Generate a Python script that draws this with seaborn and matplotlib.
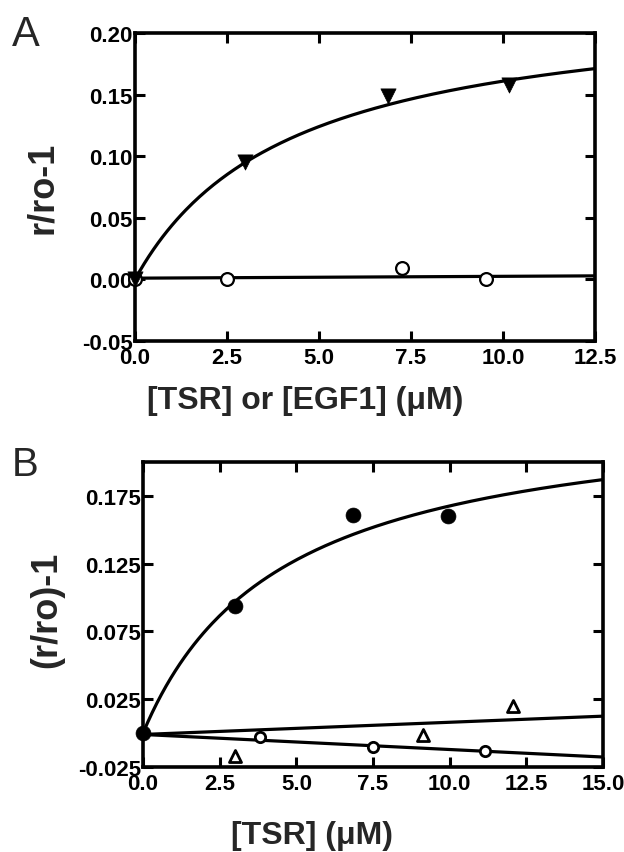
import numpy as np
import pandas as pd
import matplotlib
matplotlib.use("Agg")
import matplotlib.pyplot as plt
import seaborn as sns

# ---------------- data ----------------
# Panel A
a_tri_x = [0.0, 3.0, 6.87, 10.16]
a_tri_y = [0.0, 0.095, 0.149, 0.158]
a_circ_x = [0.0, 2.5, 7.26, 9.54]
a_circ_y = [0.0, 0.0, 0.009, 0.0]
a_hyp_bmax, a_hyp_kd = 0.229, 4.23          # hyperbolic fit, filled triangles
a_lin_int, a_lin_slope = 0.001, 0.00015     # linear fit, open circles

# Panel B
b_fill_x = [0.0, 3.0, 6.85, 9.95]
b_fill_y = [0.0, 0.094, 0.161, 0.160]
b_open_x = [0.0, 3.8, 7.5, 11.15]
b_open_y = [0.0, -0.003, -0.010, -0.013]
b_tri_x = [3.0, 9.13, 12.07]
b_tri_y = [-0.017, -0.0015, 0.020]
b_hyp_bmax, b_hyp_kd = 0.2435, 4.53
b_lin1_int, b_lin1_slope = -0.001, -0.00111  # open circles
b_lin2_int, b_lin2_slope = -0.001, 0.00090   # open triangles

a_xticks = [0.0, 2.5, 5.0, 7.5, 10.0, 12.5]
a_yticks = [-0.05, 0.00, 0.05, 0.10, 0.15, 0.20]
b_xticks = [0.0, 2.5, 5.0, 7.5, 10.0, 12.5, 15.0]
b_yticks = [-0.025, 0.025, 0.075, 0.125, 0.175]

# ---------------- style ----------------
sns.set_style("ticks")
plt.rcParams['font.family'] = ['Liberation Sans', 'DejaVu Sans']
plt.rcParams['mathtext.default'] = 'regular'

W, H = 624, 853
fig = plt.figure(figsize=(W / 100, H / 100), dpi=100)

def box(l, t, r, b):
    return [l / W, 1 - b / H, (r - l) / W, (b - t) / H]

axA = fig.add_axes(box(135, 34, 595, 342))
axB = fig.add_axes(box(143, 463, 603, 768))

LW = 2.3

def style(ax, xt, yt, xfmt, yfmt, xlim, ylim):
    ax.set_xlim(*xlim)
    ax.set_ylim(*ylim)
    ax.set_xticks(xt)
    ax.set_yticks(yt)
    ax.set_xticklabels([xfmt % v for v in xt])
    ax.set_yticklabels([yfmt % v for v in yt])
    for s in ax.spines.values():
        s.set_visible(True)
        s.set_linewidth(2.6)
        s.set_color('black')
    ax.tick_params(direction='in', length=7, width=2.2, top=True, right=True,
                   labelsize=16, colors='black')
    ax.tick_params(axis='y', pad=1.5)
    ax.tick_params(axis='x', pad=4)
    for lab in ax.get_xticklabels() + ax.get_yticklabels():
        lab.set_fontweight('bold')

# ---------------- Panel A ----------------
xa = np.linspace(0, 12.5, 200)
dfa_fit = pd.DataFrame({"x": xa, "y": a_hyp_bmax * xa / (a_hyp_kd + xa)})
dfa_lin = pd.DataFrame({"x": xa, "y": a_lin_int + a_lin_slope * xa})
sns.lineplot(data=dfa_fit, x="x", y="y", ax=axA, color='black', lw=LW)
sns.lineplot(data=dfa_lin, x="x", y="y", ax=axA, color='black', lw=LW)
sns.scatterplot(x=a_circ_x, y=a_circ_y, ax=axA, marker='o', s=85,
                facecolor='white', edgecolor='black', linewidth=1.6,
                clip_on=False, zorder=5)
sns.scatterplot(x=a_tri_x, y=a_tri_y, ax=axA, marker='v', s=120,
                color='black', edgecolor='black', linewidth=0.5,
                clip_on=False, zorder=6)
style(axA, a_xticks, a_yticks, '%.1f', '%.2f', (0, 12.5), (-0.05, 0.20))
axA.set_xlabel('[TSR] or [EGF1] (μM)', fontsize=23, fontweight='bold')
axA.set_ylabel('r/ro-1', fontsize=26, fontweight='bold')
axA.xaxis.set_label_coords(0.37, -0.19)
axA.xaxis.label.set_va('center')
axA.yaxis.set_label_coords(-0.202, 0.5)
axA.yaxis.label.set_va('center')

# ---------------- Panel B ----------------
xb = np.linspace(0, 15, 200)
dfb_fit = pd.DataFrame({"x": xb, "y": b_hyp_bmax * xb / (b_hyp_kd + xb)})
dfb_l1 = pd.DataFrame({"x": xb, "y": b_lin1_int + b_lin1_slope * xb})
dfb_l2 = pd.DataFrame({"x": xb, "y": b_lin2_int + b_lin2_slope * xb})
for d in (dfb_fit, dfb_l1, dfb_l2):
    sns.lineplot(data=d, x="x", y="y", ax=axB, color='black', lw=LW)
sns.scatterplot(x=b_open_x, y=b_open_y, ax=axB, marker='o', s=55,
                facecolor='white', edgecolor='black', linewidth=2.0,
                clip_on=False, zorder=5)
sns.scatterplot(x=b_tri_x, y=b_tri_y, ax=axB, marker='^', s=75,
                facecolor='white', edgecolor='black', linewidth=2.0,
                clip_on=False, zorder=5)
sns.scatterplot(x=b_fill_x, y=b_fill_y, ax=axB, marker='o', s=115,
                color='black', edgecolor='black', linewidth=0.5,
                clip_on=False, zorder=6)
style(axB, b_xticks, b_yticks, '%.1f', '%.3f', (0, 15), (-0.025, 0.2))
axB.set_xlabel('[TSR] (μM)', fontsize=23, fontweight='bold')
axB.set_ylabel('(r/ro)-1', fontsize=26, fontweight='bold')
axB.xaxis.set_label_coords(0.367, -0.222)
axB.xaxis.label.set_va('center')
axB.yaxis.set_label_coords(-0.209, 0.52)
axB.yaxis.label.set_va('center')

# panel letters
fig.text(12 / W, 1 - 15 / H, 'A', fontsize=30, va='top', ha='left')
fig.text(12 / W, 1 - 446 / H, 'B', fontsize=29, va='top', ha='left')

fig.savefig('out.png', dpi=100, facecolor='white')
